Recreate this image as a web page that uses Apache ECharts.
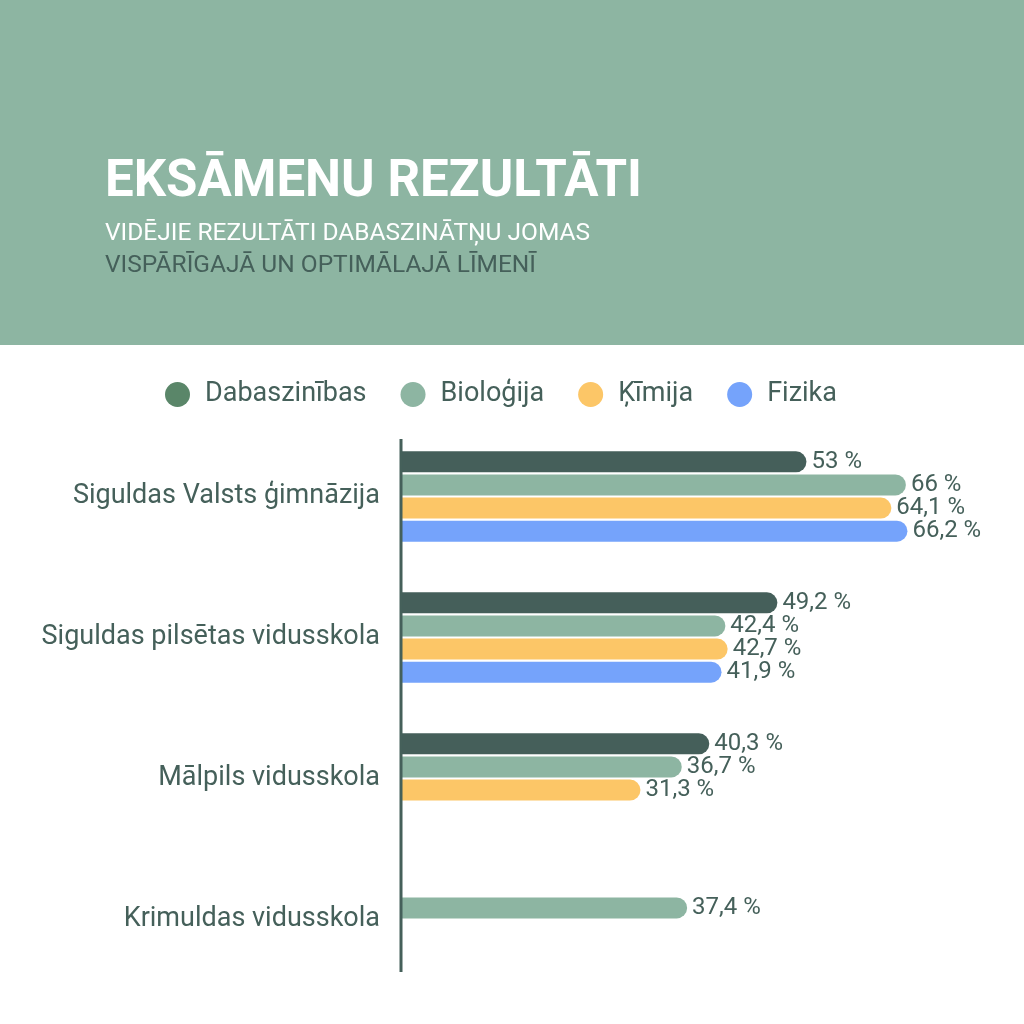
<!DOCTYPE html>
<html>
<head>
<meta charset="utf-8">
<title>Eksāmenu rezultāti</title>
<script src="https://cdn.jsdelivr.net/npm/echarts@6/dist/echarts.min.js"></script>
<style>
  html, body { margin: 0; padding: 0; background: #fff; }
  #chart { width: 1024px; height: 1024px; }
</style>
</head>
<body>
<div id="chart"></div>
<script>
// skolas (no augšas uz leju)
const schools = [
  'Siguldas Valsts ģimnāzija',
  'Siguldas pilsētas vidusskola',
  'Mālpils vidusskola',
  'Krimuldas vidusskola'
];
const subjects = ['Dabaszinības', 'Bioloģija', 'Ķīmija', 'Fizika'];

// vidējie rezultāti, %
const dabaszinibas = [53, 49.2, 40.3, null];
const biologija = [66, 42.4, 36.7, 37.4];
const kimija = [64.1, 42.7, 31.3, null];
const fizika = [66.2, 41.9, null, null];

const barColors = ['#455f5a', '#8db5a2', '#fcc667', '#75a3fb'];
const legendColors = ['#5a8669', '#8db5a2', '#fcc667', '#75a3fb'];
const textColor = '#45605a';
const font = 'Roboto';

const chart = echarts.init(document.getElementById('chart'));

// procentu uzraksts ar komatu
const fmt = p => String(p.value).replace('.', ',') + ' %';

const makeSeries = (name, data, i) => ({
  name: name,
  type: 'bar',
  data: data,
  barWidth: 21,
  barGap: '10%',
  itemStyle: { color: barColors[i], borderRadius: [0, 10.5, 10.5, 0] },
  label: {
    show: true,
    position: 'right',
    distance: 5,
    formatter: fmt,
    color: textColor,
    fontFamily: font,
    fontSize: 24
  }
});

chart.setOption({
  animation: false,
  backgroundColor: '#ffffff',
  graphic: [
    { type: 'rect', z: -1, shape: { x: 0, y: 0, width: 1024, height: 345 }, style: { fill: '#8db5a2' } },
    { type: 'text', left: 105, top: 158, style: { text: 'EKSĀMENU REZULTĀTI', fill: '#ffffff', font: 'bold 51px Roboto' } },
    { type: 'text', left: 105, top: 221, style: { text: 'VIDĒJIE REZULTĀTI DABASZINĀTŅU JOMAS', fill: '#ffffff', font: '24.5px Roboto' } },
    { type: 'text', left: 105, top: 253, style: { text: 'VISPĀRĪGAJĀ UN OPTIMĀLAJĀ LĪMENĪ', fill: textColor, font: '24.5px Roboto' } },
    // vertikālā ass
    { type: 'line', z: 10, shape: { x1: 401, y1: 439, x2: 401, y2: 972 }, style: { stroke: textColor, lineWidth: 3 } }
  ],
  legend: {
    left: 165,
    top: 381,
    padding: 0,
    icon: 'circle',
    itemWidth: 25,
    itemHeight: 25,
    itemGap: 34,
    textStyle: { color: textColor, fontFamily: font, fontSize: 27, padding: [0, 0, 0, 10] },
    data: subjects.map((s, i) => ({ name: s, itemStyle: { color: legendColors[i] } }))
  },
  grid: { left: 401, right: 11, top: 426, bottom: 34, containLabel: false },
  xAxis: { type: 'value', min: 0, max: 80, show: false },
  yAxis: {
    type: 'category',
    inverse: true,
    data: schools,
    axisLine: { show: false },
    axisTick: { show: false },
    splitLine: { show: false },
    axisLabel: { margin: 21, color: textColor, fontFamily: font, fontSize: 27 }
  },
  series: [
    makeSeries(subjects[0], dabaszinibas, 0),
    makeSeries(subjects[1], biologija, 1),
    makeSeries(subjects[2], kimija, 2),
    makeSeries(subjects[3], fizika, 3)
  ]
});
</script>
</body>
</html>
